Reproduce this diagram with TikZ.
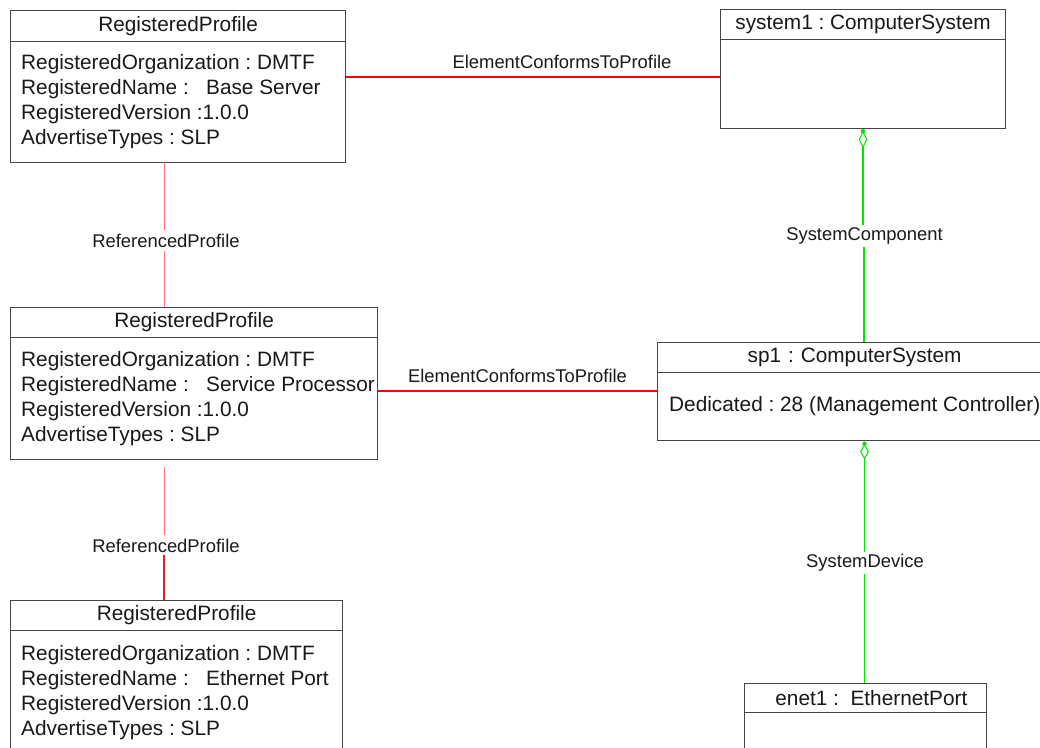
\documentclass[tikz,border=0pt]{standalone}
\usepackage{fontspec}
\setmainfont{Liberation Sans}
\usetikzlibrary{calc}
\definecolor{boxline}{RGB}{70,70,70}
\definecolor{ecpred}{RGB}{255,0,0}
\definecolor{refpink}{RGB}{255,110,120}
\definecolor{refdark}{RGB}{225,30,45}
\definecolor{compgreen}{RGB}{0,230,0}
\tikzset{
  hdr/.style={draw=boxline, line width=1.2pt, anchor=north west, inner sep=0pt,
    font=\fontsize{20.8}{25}\selectfont, text=black!90},
  bodybox/.style={draw=boxline, line width=1.2pt, anchor=north west, inner sep=0pt},
  attrs/.style={anchor=west, inner sep=0pt, align=left,
    font=\fontsize{20.8}{25}\selectfont, text=black!90},
  lbl/.style={font=\fontsize{18.4}{22}\selectfont, text=black!90, inner sep=0pt},
  gaplbl/.style={lbl, fill=white, inner xsep=1pt, inner ysep=3pt},
  ecp/.style={draw=ecpred, line width=2.9pt},
  refline/.style={draw=refpink, line width=1.2pt},
  compline/.style={draw=compgreen, line width=1.5pt},
  aggdiamond/.style={draw=compgreen, line width=1pt, fill=white}
}
\begin{document}
\begin{tikzpicture}[x=1pt,y=-1pt]
\useasboundingbox (0,0) rectangle (1040,747);
\clip (0,0) rectangle (1040,747);
\fill[white] (0,0) rectangle (1040,747);

% ---- RegisteredProfile 1
\node[hdr, minimum width=335pt, minimum height=31pt] (p1h) at (10,10) {RegisteredProfile};
\node[bodybox, minimum width=335pt, minimum height=121pt] (p1b) at (10,41) {};
\node[attrs] (p1t) at (21,102) {RegisteredOrganization\ :\ DMTF\\RegisteredName\ :\ \ \ Base Server\\RegisteredVersion\ :1.0.0\\AdvertiseTypes\ :\ SLP};

% ---- RegisteredProfile 2
\node[hdr, minimum width=367pt, minimum height=30pt] (p2h) at (10,307) {RegisteredProfile};
\node[bodybox, minimum width=367pt, minimum height=122pt] (p2b) at (10,337) {};
\node[attrs] (p2t) at (21,399) {RegisteredOrganization\ :\ DMTF\\RegisteredName\ :\ \ \ Service Processor\\RegisteredVersion\ :1.0.0\\AdvertiseTypes\ :\ SLP};

% ---- RegisteredProfile 3
\node[hdr, minimum width=332pt, minimum height=30pt] (p3h) at (10,600) {RegisteredProfile};
\node[bodybox, minimum width=332pt, minimum height=130pt] (p3b) at (10,630) {};
\node[attrs] (p3t) at (21,692.5) {RegisteredOrganization\ :\ DMTF\\RegisteredName\ :\ \ \ Ethernet Port\\RegisteredVersion\ :1.0.0\\AdvertiseTypes\ :\ SLP};

% ---- system1
\node[hdr, minimum width=285pt, minimum height=30pt] (s1h) at (720,9) {system1\ :\ ComputerSystem};
\node[bodybox, minimum width=285pt, minimum height=89pt] (s1b) at (720,39) {};

% ---- sp1
\node[hdr, minimum width=400pt, minimum height=30pt, text width=400pt, align=left] (sp1h) at (657,342) {\hspace*{90pt}sp1\ :\ ComputerSystem};
\node[bodybox, minimum width=400pt, minimum height=68pt] (sp1b) at (657,372) {};
\node[attrs] (sp1t) at (669,406) {Dedicated\ :\ 28 (Management Controller)};

% ---- enet1
\node[hdr, minimum width=242pt, minimum height=29pt] (e1h) at (744,683) {\ \ enet1\ :\ \ EthernetPort};
\node[bodybox, minimum width=242pt, minimum height=80pt] (e1b) at (744,712) {};

% ---- ElementConformsToProfile 1
\draw[ecp] (p1b.east |- 0,77) -- (s1b.west |- 0,77);
\node[lbl] (ecp1) at (562,62) {ElementConformsToProfile};

% ---- ElementConformsToProfile 2
\draw[ecp] (p2b.east |- 0,391) -- (sp1b.west |- 0,391);
\node[lbl] (ecp2) at (517.5,376) {ElementConformsToProfile};

% ---- ReferencedProfile 1
\node[gaplbl] (rp1) at (166,241) {ReferencedProfile};
\draw[refline] (164.5,162) -- (164.5,230);
\draw[refline] (164.5,251) -- (p2h.north -| 164.5,0);

% ---- ReferencedProfile 2
\node[gaplbl] (rp2) at (166,546) {ReferencedProfile};
\draw[refline] (164.5,467) -- (164.5,535);
\draw[draw=refdark, line width=1.2pt] (164,555) -- (p3h.north -| 164,0);

% ---- SystemComponent
\node[gaplbl] (sc) at (864.5,236) {SystemComponent};
\coordinate (d1top) at (s1b.south -| 863,0);
\draw[compline] (863,147) -- (863,225);
\draw[compline] (864,247) -- (sp1h.north -| 864,0);
\draw[aggdiamond] (863,132) -- (866.8,139.5) -- (863,147) -- (859.2,139.5) -- cycle;
\fill[compgreen] (d1top) ++(0,2) circle (2.2pt);

% ---- SystemDevice
\node[gaplbl] (sd) at (865,563) {SystemDevice};
\coordinate (d2top) at (sp1b.south -| 864.5,0);
\draw[compline] (864.5,458) -- (864.5,552);
\draw[compline] (864.5,574) -- (e1h.north -| 864.5,0);
\draw[aggdiamond] (864.5,444.5) -- (868.3,451.5) -- (864.5,458.5) -- (860.7,451.5) -- cycle;
\fill[compgreen] (d2top) ++(0,2.5) circle (2.2pt);
\end{tikzpicture}
\end{document}
